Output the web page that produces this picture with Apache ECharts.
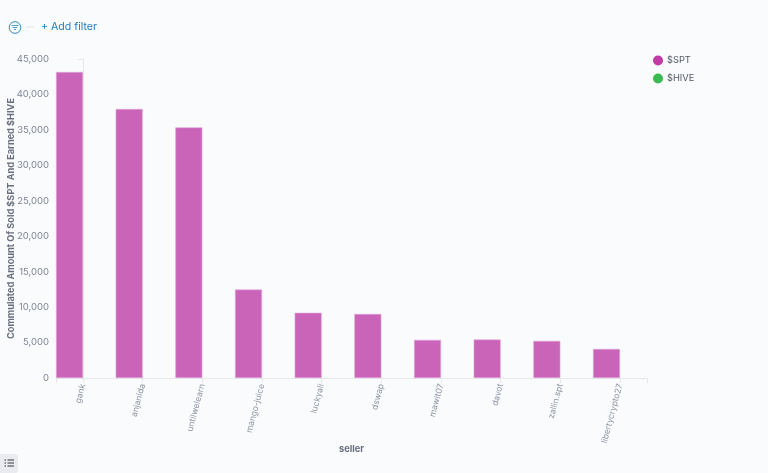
<!DOCTYPE html>
<html><head><meta charset="utf-8">
<style>html,body{margin:0;padding:0;background:#fafbfd}#c{width:768px;height:473px}</style>
<script src="https://cdn.jsdelivr.net/npm/echarts@6/dist/echarts.min.js"></script>
</head><body><div id="c"></div>
<script>
const sellers = ['gank','anjanida','untilwelearn','mango-juice','luckyali','dswap','mawit07','davot','zallin.spt','libertycrypto27'];
const sptValues = [43170,37950,35350,12480,9200,9030,5380,5430,5240,4100];
const hiveValues = [0,0,0,0,0,0,0,0,0,0];
const yTicks = {min:0,max:45000,interval:5000};
const xMin = -0.4525, xMax = 9.4525;
const tickVals = [xMin,...sellers.map((_,i)=>i),xMax];
const chart = echarts.init(document.getElementById('c'),null,{renderer:'canvas'});
const font='Inter';
chart.setOption({
  animation:false,
  backgroundColor:'#fafbfd',
  textStyle:{fontFamily:font},
  grid:{left:56,top:59,width:591,height:319,containLabel:false,outerBoundsMode:'none'},
  legend:{orient:'vertical',left:653,top:55.5,padding:0,itemWidth:10,itemHeight:10,itemGap:8,icon:'circle',
    textStyle:{fontFamily:font,fontSize:9.3,color:'#535966',padding:[0,0,0,-1]},
    data:[{name:'$SPT',itemStyle:{color:'#c13ca5',borderWidth:0}},{name:'$HIVE',itemStyle:{color:'#3cba54',borderWidth:0}}]},
  xAxis:{type:'value',min:xMin,max:xMax,containShape:false,name:'seller',nameLocation:'middle',nameGap:67,nameMoveOverlap:false,
    nameTextStyle:{fontFamily:font,fontWeight:'bold',fontSize:9.3,color:'#69707d'},
    splitLine:{show:false},
    axisLine:{show:true,onZero:false,lineStyle:{color:'#e6e8ec',width:1}},
    axisTick:{show:true,length:5,lineStyle:{color:'#e6e8ec'},customValues:tickVals},
    axisLabel:{rotate:75,fontFamily:font,fontSize:8.5,color:'#8b93a1',margin:6,hideOverlap:false,
      customValues:sellers.map((_,i)=>i),
      formatter:v=>sellers[Math.round(v)]||''}},
  yAxis:{type:'value',min:yTicks.min,max:yTicks.max,interval:yTicks.interval,
    name:'Commulated Amount Of Sold $SPT And Earned $HIVE',nameLocation:'middle',nameGap:40,nameMoveOverlap:false,
    nameTextStyle:{fontFamily:font,fontWeight:'bold',fontSize:9.2,color:'#69707d'},
    splitLine:{show:false},
    axisLine:{show:true,lineStyle:{color:'#e6e8ec'}},
    axisTick:{show:true,length:5,lineStyle:{color:'#e6e8ec'}},
    axisLabel:{fontFamily:font,fontSize:9.5,color:'#7d8493',margin:7,
      formatter:v=>v.toLocaleString('en-US')}},
  series:[
    {name:'$SPT',type:'bar',barWidth:27,barGap:0,
     itemStyle:{color:'#c964b8',borderColor:'#e3a6da',borderWidth:0.6},
     data:sptValues.map((v,i)=>[i,v])},
    {name:'$HIVE',type:'bar',barWidth:27,barGap:0,
     itemStyle:{color:'#3cba54'},
     data:hiveValues.map((v,i)=>[i,v])}
  ],
  graphic:[
    {type:'circle',shape:{cx:15,cy:27.5,r:5.8},style:{fill:'none',stroke:'#2d85c4',lineWidth:1}},
    {type:'line',shape:{x1:11.5,y1:25.5,x2:18.5,y2:25.5},style:{stroke:'#2d85c4',lineWidth:0.8}},
    {type:'line',shape:{x1:12.7,y1:27.5,x2:17.3,y2:27.5},style:{stroke:'#2d85c4',lineWidth:0.8}},
    {type:'line',shape:{x1:14,y1:29.5,x2:16,y2:29.5},style:{stroke:'#2d85c4',lineWidth:0.8}},
    {type:'line',shape:{x1:26,y1:27,x2:34,y2:27},style:{stroke:'#e4e7ec',lineWidth:1}},
    {type:'text',x:41,y:21.5,style:{text:'+ Add filter',fontFamily:font,fontSize:10.6,fill:'#1f7cc0',verticalAlign:'top'}},
    {type:'rect',shape:{x:0,y:454,width:18,height:19,r:[0,3,3,0]},style:{fill:'#e9ebf0'}},
    {type:'line',shape:{x1:7.5,y1:460,x2:14,y2:460},style:{stroke:'#343741',lineWidth:1}},
    {type:'line',shape:{x1:7.5,y1:463,x2:14,y2:463},style:{stroke:'#343741',lineWidth:1}},
    {type:'line',shape:{x1:7.5,y1:466,x2:14,y2:466},style:{stroke:'#343741',lineWidth:1}},
    {type:'line',shape:{x1:4.5,y1:460,x2:6,y2:460},style:{stroke:'#343741',lineWidth:1}},
    {type:'line',shape:{x1:4.5,y1:463,x2:6,y2:463},style:{stroke:'#343741',lineWidth:1}},
    {type:'line',shape:{x1:4.5,y1:466,x2:6,y2:466},style:{stroke:'#343741',lineWidth:1}}
  ]
});
</script></body></html>
